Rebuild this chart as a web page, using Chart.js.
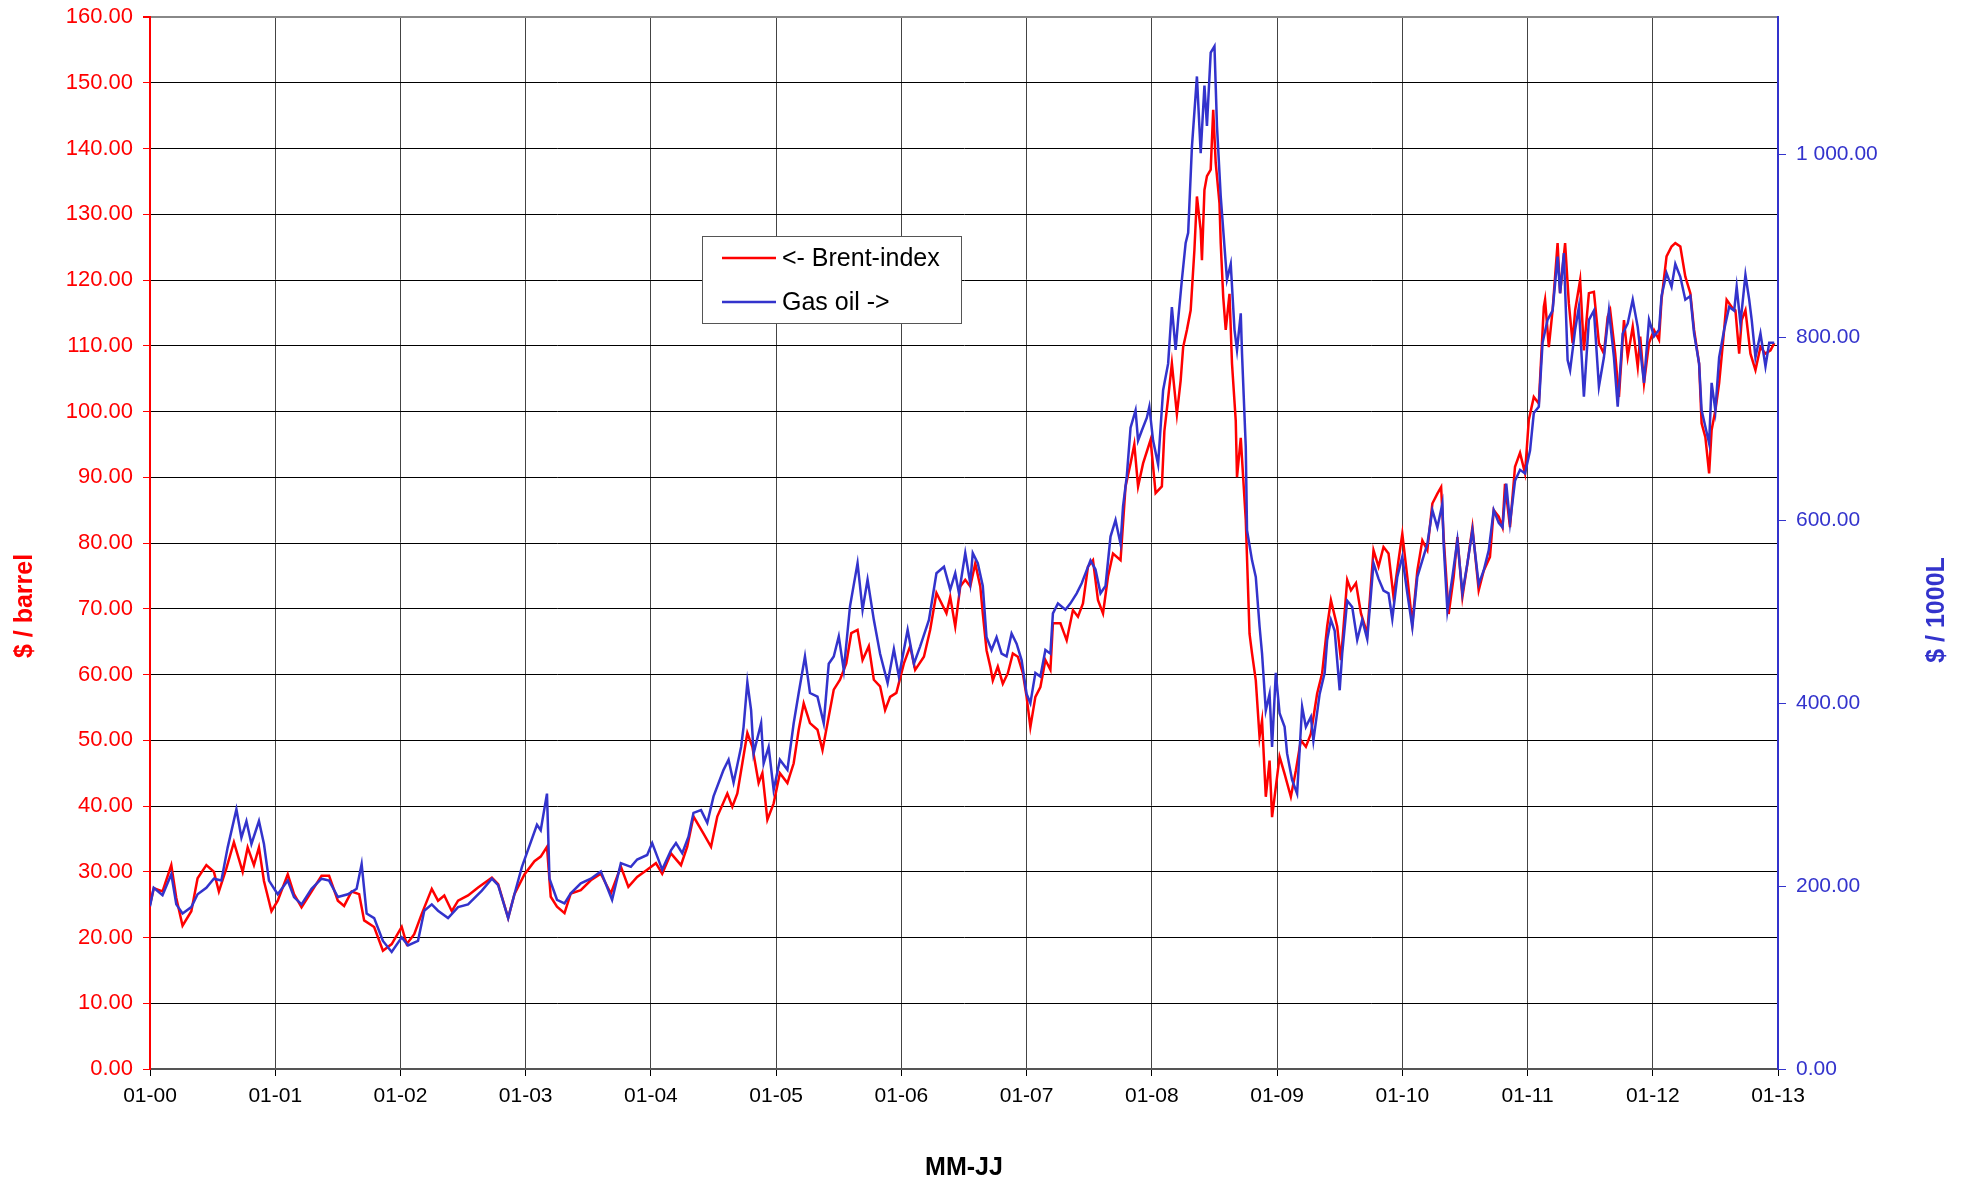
<!DOCTYPE html>
<html>
<head>
<meta charset="utf-8">
<title>Brent-index / Gas oil</title>
<script src="https://cdn.jsdelivr.net/npm/chart.js@4.4.1/dist/chart.umd.min.js"></script>
<style>
  html, body { margin: 0; padding: 0; background: #fff; }
  canvas { display: block; }
</style>
</head>
<body>
<canvas id="chart" width="1966" height="1186"></canvas>
<script>
// Brent-index, $ / barrel (left axis), x = decimal year
const brentYears = [
  2000.00,2000.03,2000.10,2000.17,2000.21,2000.26,2000.33,2000.38,2000.45,2000.51,2000.55,2000.61,2000.67,2000.74,2000.78,2000.83,2000.87,2000.91,2000.97,
  2001.02,2001.10,2001.15,2001.21,2001.29,2001.37,2001.43,2001.50,2001.55,2001.61,2001.67,2001.71,2001.79,2001.86,2001.93,
  2002.01,2002.05,2002.11,2002.17,2002.25,2002.30,2002.35,2002.41,2002.46,2002.54,2002.62,2002.73,2002.78,2002.86,2002.91,2002.99,
  2003.07,2003.12,2003.17,2003.20,2003.25,2003.31,2003.36,2003.44,2003.52,2003.60,2003.68,2003.76,2003.82,2003.89,2003.97,
  2004.04,2004.09,2004.16,2004.24,2004.29,2004.34,2004.42,2004.48,2004.53,2004.61,2004.65,2004.69,2004.73,2004.77,2004.81,2004.86,2004.89,2004.93,2004.98,
  2005.03,2005.09,2005.14,2005.18,2005.22,2005.27,2005.33,2005.37,2005.41,2005.46,2005.51,2005.56,2005.60,2005.65,2005.69,2005.74,2005.78,2005.83,2005.87,2005.91,2005.96,
  2006.02,2006.07,2006.11,2006.18,2006.23,2006.28,2006.36,2006.39,2006.43,2006.47,2006.51,2006.55,2006.59,2006.63,2006.65,2006.68,2006.71,2006.73,2006.77,2006.81,2006.85,2006.89,2006.93,2006.97,
  2007.00,2007.03,2007.07,2007.11,2007.15,2007.19,2007.21,2007.27,2007.32,2007.37,2007.41,2007.45,2007.49,2007.53,2007.57,2007.61,2007.65,2007.69,2007.75,2007.79,2007.83,2007.86,2007.89,2007.93,2007.99,
  2008.03,2008.08,2008.10,2008.13,2008.16,2008.20,2008.23,2008.25,2008.28,2008.31,2008.34,2008.36,2008.39,2008.40,2008.42,2008.44,2008.47,2008.49,2008.51,2008.54,2008.55,2008.57,2008.59,2008.62,2008.64,2008.67,2008.68,2008.71,2008.75,2008.78,2008.80,2008.83,2008.86,2008.88,2008.91,2008.94,2008.96,2008.99,
  2009.02,2009.06,2009.11,2009.15,2009.19,2009.23,2009.27,2009.32,2009.36,2009.40,2009.43,2009.48,2009.51,2009.56,2009.59,2009.63,2009.67,2009.72,2009.77,2009.81,2009.85,2009.89,2009.93,2009.97,
  2010.00,2010.04,2010.08,2010.12,2010.16,2010.20,2010.24,2010.28,2010.31,2010.33,2010.37,2010.41,2010.44,2010.48,2010.52,2010.56,2010.61,2010.65,2010.70,2010.73,2010.77,2010.80,2010.82,2010.86,2010.90,2010.94,2010.98,
  2011.01,2011.05,2011.09,2011.13,2011.14,2011.17,2011.20,2011.24,2011.26,2011.30,2011.33,2011.36,2011.38,2011.42,2011.45,2011.49,2011.53,2011.57,2011.61,2011.64,2011.66,2011.70,2011.73,2011.77,2011.80,2011.84,2011.88,2011.90,2011.93,2011.97,
  2012.01,2012.05,2012.07,2012.11,2012.15,2012.18,2012.22,2012.26,2012.30,2012.33,2012.37,2012.39,2012.42,2012.45,2012.47,2012.50,2012.53,2012.57,2012.59,2012.63,2012.66,2012.69,2012.71,2012.74,2012.78,2012.82,2012.86,2012.90,2012.94,2012.97
];
const brentValues = [
  25.0,27.5,27.0,31.0,26.0,21.8,24.0,29.0,31.0,30.0,27.0,30.5,34.5,30.0,33.7,31.0,33.7,28.6,24.0,
  25.6,29.6,26.6,24.6,27.0,29.4,29.4,25.6,24.8,27.0,26.6,22.6,21.6,18.0,19.0,
  21.6,19.0,20.5,23.6,27.4,25.6,26.4,24.0,25.6,26.4,27.6,29.1,28.1,23.0,26.6,29.6,
  31.6,32.3,33.8,26.2,24.7,23.7,26.7,27.2,28.7,29.7,26.7,30.8,27.7,29.2,30.3,
  31.3,29.7,32.8,31.0,33.8,38.4,35.8,33.8,38.4,41.9,39.9,41.9,46.5,51.1,49.0,43.5,45.0,37.9,40.4,
  45.0,43.5,46.5,51.6,55.6,52.6,51.6,48.5,52.6,57.7,59.2,61.7,66.3,66.8,62.2,64.3,59.2,58.2,54.6,56.6,57.2,
  61.7,64.3,60.7,62.7,66.8,72.4,69.3,71.8,67.3,73.4,74.4,73.4,76.9,73.4,69.3,63.7,61.2,59.1,61.2,58.6,60.2,63.2,62.7,60.2,
  56.6,52.0,56.6,58.1,62.2,60.7,67.8,67.8,65.2,69.8,68.8,70.8,76.4,77.4,71.3,69.3,74.9,78.4,77.4,88.6,92.1,95.0,88.6,92.1,95.7,
  87.6,88.6,97.0,102.0,107.3,99.6,104.7,109.8,112.4,115.4,124.6,132.7,127.6,123.0,133.7,135.8,136.8,145.9,137.8,131.7,125.6,117.4,112.4,117.9,107.3,98.6,90.0,96.0,83.5,66.2,63.2,59.1,50.5,53.0,41.4,46.9,38.3,42.9,
  47.5,44.9,41.4,45.4,50.0,49.0,51.0,57.1,60.2,67.3,71.3,67.3,62.2,74.4,72.8,73.9,69.3,66.2,78.9,76.4,79.4,78.4,71.8,77.4,
  81.4,74.8,67.7,75.8,80.4,78.9,86.0,87.5,88.5,80.9,69.2,74.8,80.9,71.8,76.9,82.4,72.8,75.8,77.9,85.0,84.0,82.4,89.0,82.4,91.6,93.7,90.6,
  98.7,102.2,101.2,115.9,117.0,109.8,115.4,125.6,118.0,125.6,116.4,110.4,115.4,120.0,109.3,118.0,118.2,110.4,108.8,114.4,115.4,108.8,102.2,113.9,108.3,112.9,106.8,111.4,104.3,110.4,
  112.4,110.9,117.0,123.6,125.1,125.6,125.1,120.5,118.0,112.4,107.3,98.2,96.1,90.6,97.2,100.2,104.3,112.4,117.0,115.9,115.4,108.8,113.9,115.4,108.8,106.3,109.8,108.8,109.3,110.4
];

// Gas oil, $ / 1000L (right axis)
const gasYears = [
  2000.00,2000.03,2000.10,2000.17,2000.21,2000.26,2000.33,2000.38,2000.45,2000.51,2000.57,2000.62,2000.69,2000.73,2000.77,2000.81,2000.87,2000.91,2000.95,
  2001.02,2001.10,2001.15,2001.21,2001.29,2001.37,2001.43,2001.50,2001.58,2001.65,2001.69,2001.73,2001.79,2001.86,2001.93,
  2002.01,2002.06,2002.14,2002.19,2002.25,2002.30,2002.38,2002.46,2002.54,2002.65,2002.73,2002.78,2002.86,2002.91,2002.97,
  2003.09,2003.12,2003.17,2003.19,2003.25,2003.31,2003.36,2003.44,2003.52,2003.60,2003.69,2003.76,2003.84,2003.89,2003.97,
  2004.01,2004.09,2004.16,2004.20,2004.25,2004.30,2004.34,2004.40,2004.45,2004.50,2004.58,2004.62,2004.66,2004.72,2004.74,2004.77,2004.80,2004.82,2004.88,2004.90,2004.94,2004.98,
  2005.03,2005.09,2005.14,2005.18,2005.23,2005.27,2005.33,2005.38,2005.42,2005.46,2005.50,2005.54,2005.59,2005.65,2005.69,2005.73,2005.78,2005.83,2005.89,2005.94,2005.98,
  2006.05,2006.10,2006.15,2006.22,2006.28,2006.34,2006.39,2006.43,2006.46,2006.51,2006.55,2006.57,2006.61,2006.65,2006.68,2006.72,2006.76,2006.80,2006.84,2006.88,2006.92,2006.96,
  2007.00,2007.03,2007.07,2007.11,2007.15,2007.19,2007.21,2007.25,2007.31,2007.35,2007.40,2007.44,2007.51,2007.55,2007.59,2007.63,2007.67,2007.71,2007.75,2007.77,2007.80,2007.83,2007.87,2007.89,2007.92,2007.96,2007.98,
  2008.01,2008.05,2008.09,2008.13,2008.16,2008.19,2008.21,2008.24,2008.27,2008.29,2008.32,2008.36,2008.39,2008.42,2008.44,2008.47,2008.50,2008.52,2008.55,2008.58,2008.60,2008.63,2008.66,2008.68,2008.71,2008.72,2008.75,2008.76,2008.80,2008.83,2008.86,2008.88,2008.91,2008.94,2008.96,2008.99,
  2009.02,2009.06,2009.08,2009.12,2009.16,2009.20,2009.23,2009.27,2009.29,2009.34,2009.38,2009.40,2009.43,2009.46,2009.50,2009.52,2009.56,2009.60,2009.64,2009.68,2009.72,2009.77,2009.81,2009.85,2009.89,2009.92,2009.96,
  2010.00,2010.04,2010.08,2010.12,2010.16,2010.20,2010.24,2010.28,2010.32,2010.33,2010.36,2010.40,2010.44,2010.48,2010.52,2010.56,2010.61,2010.65,2010.69,2010.73,2010.77,2010.80,2010.83,2010.86,2010.90,2010.94,2010.98,
  2011.02,2011.05,2011.09,2011.12,2011.16,2011.20,2011.24,2011.26,2011.29,2011.32,2011.34,2011.38,2011.41,2011.45,2011.49,2011.53,2011.57,2011.61,2011.65,2011.69,2011.72,2011.76,2011.80,2011.84,2011.88,2011.90,2011.93,2011.97,
  2012.01,2012.05,2012.07,2012.11,2012.15,2012.18,2012.22,2012.26,2012.30,2012.33,2012.37,2012.39,2012.42,2012.45,2012.47,2012.50,2012.53,2012.57,2012.61,2012.65,2012.67,2012.70,2012.74,2012.77,2012.79,2012.82,2012.86,2012.90,2012.93,2012.97
];
const gasValues = [
  178,198,190,213,180,170,177,191,198,208,206,242,284,253,271,246,271,246,206,
  191,206,188,180,197,208,206,188,191,197,224,170,165,140,128,
  144,135,140,173,180,173,165,177,180,195,208,201,165,191,221,
  267,261,301,208,185,181,192,203,208,216,185,225,221,229,234,
  247,218,239,247,236,254,280,283,269,298,327,338,313,352,374,423,392,345,378,334,352,305,
  338,327,378,411,451,411,407,378,443,451,473,436,506,553,502,535,491,454,422,459,429,
  480,443,462,491,542,549,524,542,520,564,531,564,553,528,472,458,472,454,451,476,465,447,
  410,400,433,429,458,454,498,509,502,509,520,531,556,546,520,528,582,600,574,615,648,701,720,687,698,712,724,
  687,661,742,771,833,786,819,863,903,914,1008,1085,1001,1075,1031,1111,1118,1031,954,899,863,880,808,786,826,782,680,589,556,538,484,454,392,410,352,433,
  389,374,345,316,301,396,374,385,359,410,433,469,491,479,414,454,512,505,469,491,470,553,536,523,520,492,538,
  560,520,483,538,556,574,611,592,618,574,501,538,578,520,553,589,530,545,567,611,597,592,640,597,643,655,651,
  676,717,724,794,819,829,888,848,892,775,764,808,833,735,819,829,746,778,829,778,724,804,815,841,811,786,750,819,
  801,808,845,870,855,880,866,841,845,804,771,720,702,684,750,720,778,808,833,829,855,815,868,841,819,778,804,768,794,794
];

const seriesLabels = ['<- Brent-index', 'Gas oil ->'];
const leftTitle = '$ / barrel';
const rightTitle = '$ / 1000L';
const xTitle = 'MM-JJ';

const RED = '#FF0000';
const BLUE = '#3333CC';
const FONT = '"Liberation Sans", Arial, sans-serif';

function toPoints(xs, ys) {
  return xs.map((x, i) => ({ x: x, y: ys[i] }));
}

function fmtSpace(v) {
  const parts = v.toFixed(2).split('.');
  return parts[0].replace(/\B(?=(\d{3})+(?!\d))/g, ' ') + '.' + parts[1];
}

// keep the plot box where the original has it: no extra room for edge labels
function fixVertical(width) {
  return (s) => {
    s.width = width;
    s.paddingTop = 0;
    s.paddingBottom = 0;
  };
}

// axis titles and the boxed legend, drawn where the original has them
const decorations = {
  id: 'decorations',
  afterDraw(chart) {
    const ctx = chart.ctx;
    const area = chart.chartArea;
    ctx.save();
    ctx.font = 'bold 25px ' + FONT;
    ctx.textAlign = 'center';
    ctx.textBaseline = 'middle';

    ctx.fillStyle = '#000';
    ctx.fillText(xTitle, (area.left + area.right) / 2, 1168);

    ctx.save();
    ctx.translate(25, 606);
    ctx.rotate(-Math.PI / 2);
    ctx.fillStyle = RED;
    ctx.fillText(leftTitle, 0, 0);
    ctx.restore();

    ctx.save();
    ctx.translate(1937, 610);
    ctx.rotate(-Math.PI / 2);
    ctx.fillStyle = BLUE;
    ctx.fillText(rightTitle, 0, 0);
    ctx.restore();

    // legend
    const bx = 702, by = 236, bw = 259, bh = 87;
    ctx.fillStyle = '#fff';
    ctx.fillRect(bx, by, bw, bh);
    ctx.strokeStyle = '#555';
    ctx.lineWidth = 1;
    ctx.strokeRect(bx + 0.5, by + 0.5, bw, bh);
    ctx.font = '25px ' + FONT;
    ctx.textAlign = 'left';
    chart.data.datasets.forEach((ds, i) => {
      const y = 258 + i * 44;
      ctx.strokeStyle = ds.borderColor;
      ctx.lineWidth = 2.5;
      ctx.beginPath();
      ctx.moveTo(722, y);
      ctx.lineTo(776, y);
      ctx.stroke();
      ctx.fillStyle = '#000';
      ctx.fillText(ds.label, 782, y + 1);
    });
    ctx.restore();
  }
};

new Chart(document.getElementById('chart'), {
  type: 'line',
  data: {
    datasets: [
      {
        label: seriesLabels[0],
        data: toPoints(brentYears, brentValues),
        yAxisID: 'y',
        borderColor: RED,
        borderWidth: 2.5,
        pointRadius: 0,
        tension: 0,
        order: 1
      },
      {
        label: seriesLabels[1],
        data: toPoints(gasYears, gasValues),
        yAxisID: 'y1',
        borderColor: BLUE,
        borderWidth: 2.5,
        pointRadius: 0,
        tension: 0,
        order: 0
      }
    ]
  },
  options: {
    responsive: false,
    devicePixelRatio: 1,
    animation: false,
    layout: { padding: { top: 17, left: 0, right: 0, bottom: 0 } },
    plugins: {
      legend: { display: false },
      tooltip: { enabled: false }
    },
    scales: {
      x: {
        type: 'linear',
        min: 2000,
        max: 2013,
        afterFit: (s) => { s.height = 117; s.paddingLeft = 0; s.paddingRight = 0; },
        border: { display: true, color: '#555', width: 2 },
        grid: { color: '#444', lineWidth: 1, tickLength: 7, tickColor: '#000' },
        ticks: {
          stepSize: 1,
          autoSkip: false,
          maxRotation: 0,
          padding: 8,
          color: '#000',
          font: { family: FONT, size: 21 },
          callback: (v) => '01-' + String(Math.round(v) - 2000).padStart(2, '0')
        }
      },
      y: {
        position: 'left',
        min: 0,
        max: 160,
        afterFit: fixVertical(150),
        border: { display: true, color: RED, width: 2 },
        grid: {
          color: (c) => (c.tick && c.tick.value === 160 ? '#888' : '#000'),
          lineWidth: (c) => (c.tick && c.tick.value === 160 ? 2 : 1),
          tickLength: 7,
          tickColor: RED
        },
        ticks: {
          stepSize: 10,
          padding: 10,
          color: RED,
          font: { family: FONT, size: 22 },
          callback: (v) => v.toFixed(2)
        }
      },
      y1: {
        position: 'right',
        min: 0,
        max: 1150,
        afterFit: fixVertical(188),
        afterBuildTicks: (s) => { s.ticks = s.ticks.filter((t) => t.value <= 1000); },
        border: { display: true, color: BLUE, width: 2 },
        grid: { drawOnChartArea: false, tickLength: 8, tickColor: BLUE },
        ticks: {
          stepSize: 200,
          padding: 10,
          color: BLUE,
          font: { family: FONT, size: 21 },
          callback: (v) => fmtSpace(v)
        }
      }
    }
  },
  plugins: [decorations]
});
</script>
</body>
</html>
